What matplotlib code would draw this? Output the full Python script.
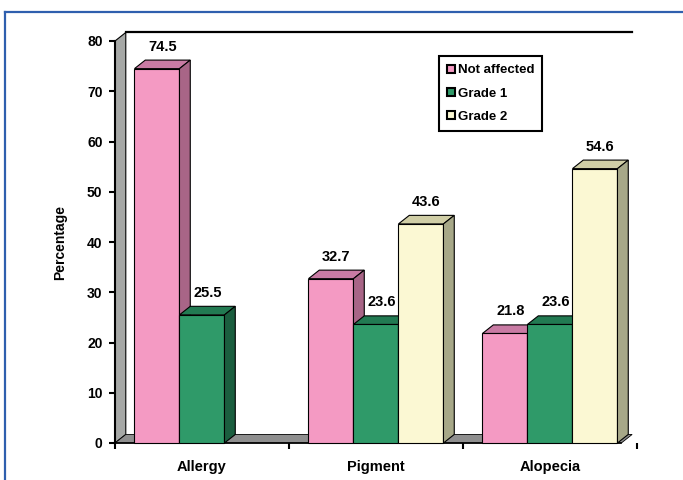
import matplotlib
matplotlib.use("Agg")
import matplotlib.pyplot as plt
from matplotlib.patches import Polygon, Patch
from matplotlib.lines import Line2D

plt.rcParams["font.family"] = ["Liberation Sans", "DejaVu Sans"]
plt.rcParams["font.weight"] = "bold"

categories = ["Allergy", "Pigment", "Alopecia"]
series = ["Not affected", "Grade 1", "Grade 2"]
not_affected = [74.5, 32.7, 21.8]
grade1 = [25.5, 23.6, 23.6]
grade2 = [0, 43.6, 54.6]

# front, top, side shades for each series
shades = [
    ("#f49ac3", "#c97ba4", "#a86587"),
    ("#2f9a69", "#227a52", "#1b5e3f"),
    ("#fbf8d3", "#d0cea6", "#a7a888"),
]

DX, DY = 0.062, 1.7       # oblique depth offset (category units, percent)
BW = 0.2586               # bar width
PAD = 0.112               # gap before first bar in a group
XR = 2.91                 # right end of the floor front edge

fig = plt.figure(figsize=(6.83, 4.8), dpi=100)
ax = fig.add_axes([115 / 683, 37 / 480, 522 / 683, 402 / 480])
ax.set_xlim(0, 3)
ax.set_ylim(0, 80)

# outer frame
fig.add_artist(Line2D([5 / 683, 1], [1 - 12 / 480] * 2, color="#2f5fae", lw=1.6))
fig.add_artist(Line2D([5 / 683] * 2, [0, 1 - 12 / 480], color="#2f5fae", lw=1.6))

# left wall and floor
ax.add_patch(Polygon([(0, 0), (0, 80), (DX, 80 + DY), (DX, DY)],
                     closed=True, fc="#a6a8a6", ec="black", lw=0.8, clip_on=False, zorder=1))
ax.add_patch(Polygon([(0, 0), (XR, 0), (XR + DX, DY), (DX, DY)],
                     closed=True, fc="#8f8f8f", ec="black", lw=0.6, clip_on=False, zorder=1))
ax.plot([DX, XR + DX], [80 + DY, 80 + DY], color="black", lw=1.6, clip_on=False, zorder=1)

values = [not_affected, grade1, grade2]
for c in range(len(categories)):
    for s in range(len(series)):
        v = values[s][c]
        if v <= 0:
            continue
        x0 = c + PAD + s * BW
        x1 = x0 + BW
        front, top, side = shades[s]
        z = 3 + s
        ax.add_patch(Polygon([(x0, 0), (x1, 0), (x1, v), (x0, v)],
                             fc=front, ec="black", lw=0.8, clip_on=False, zorder=z))
        ax.add_patch(Polygon([(x0, v), (x1, v), (x1 + DX, v + DY), (x0 + DX, v + DY)],
                             fc=top, ec="black", lw=0.8, clip_on=False, zorder=z))
        ax.add_patch(Polygon([(x1, 0), (x1 + DX, DY), (x1 + DX, v + DY), (x1, v)],
                             fc=side, ec="black", lw=0.8, clip_on=False, zorder=z))
        ax.text(x0 + BW / 2 + DX / 2, v + 4.4, f"{v:.1f}", ha="center", va="center",
                fontsize=10.5, fontweight="bold", zorder=10)

for sp in ["top", "right"]:
    ax.spines[sp].set_visible(False)
ax.spines["left"].set_linewidth(1.5)
ax.spines["bottom"].set_linewidth(1.2)
ax.spines["bottom"].set_bounds(0, XR)
ax.spines["left"].set_zorder(2)
ax.spines["bottom"].set_zorder(2)

ax.set_yticks(range(0, 81, 10))
ax.set_xticks([0, 1, 2, 3])
ax.set_xticklabels([])
ax.set_xticks([0.5, 1.5, 2.5], minor=True)
ax.set_xticklabels(categories, minor=True, fontsize=10.5, fontweight="bold")
ax.tick_params(axis="x", which="minor", length=0, pad=12)
ax.tick_params(axis="x", which="major", length=4, width=1.5, direction="out")
ax.tick_params(axis="y", length=4, width=1.5, direction="out", labelsize=10, pad=5)
for lab in ax.get_yticklabels():
    lab.set_fontweight("bold")
ax.set_ylabel("Percentage", fontsize=10, fontweight="bold", labelpad=14)

handles = [Patch(fc=shades[i][0], ec="black", lw=1.5) for i in range(3)]
leg = ax.legend(handles, series, loc="upper left", bbox_to_anchor=(0.609, 0.978),
                fancybox=False, edgecolor="black", framealpha=1,
                handlelength=0.6, handleheight=0.6, handletextpad=0.2,
                labelspacing=0.85, borderpad=0.6, prop={"weight": "bold", "size": 9.5})
leg.get_frame().set_linewidth(1.5)
leg.set_zorder(20)

fig.savefig("out.png", dpi=100)
